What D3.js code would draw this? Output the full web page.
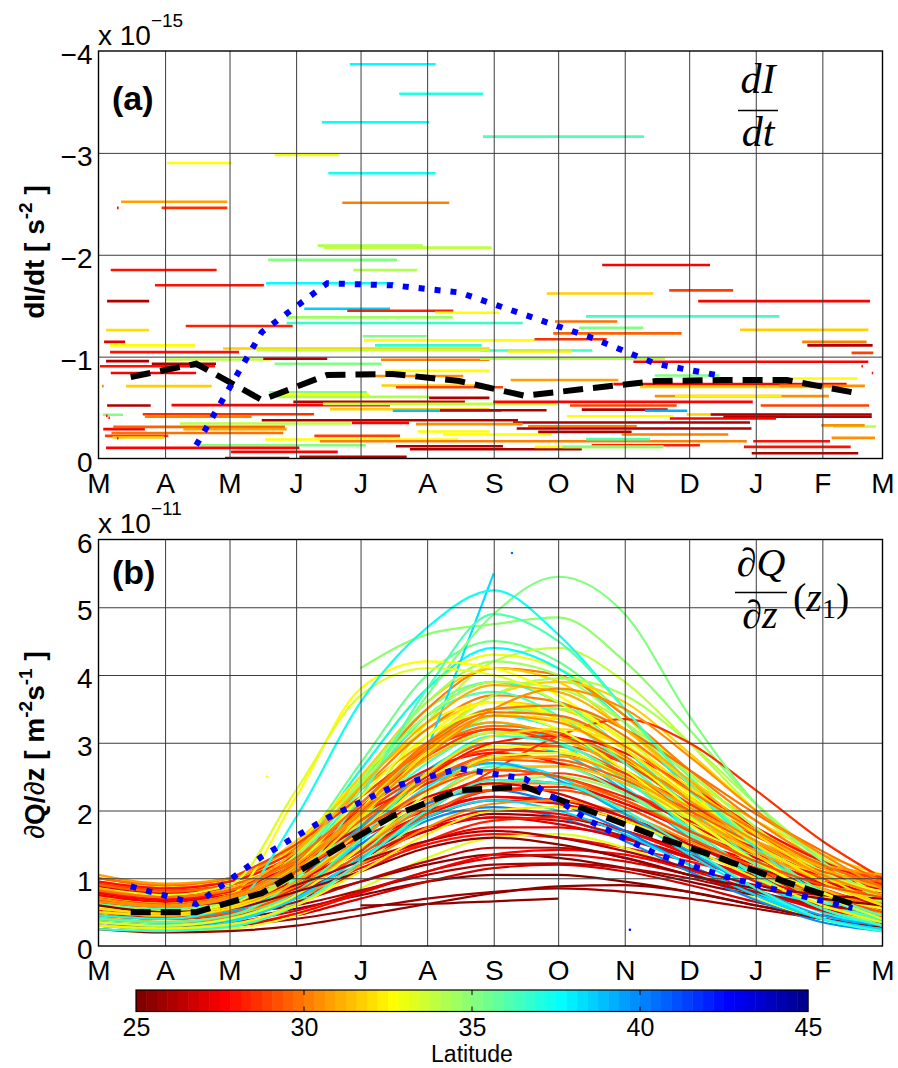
<!DOCTYPE html>
<html>
<head>
<meta charset="utf-8">
<script src="https://cdn.jsdelivr.net/npm/d3@7"></script>
<style>
  body { margin: 0; background: #fff; }
  text { font-family: "Liberation Sans", Arial, Helvetica, sans-serif; fill: #000; }
  .math { font-family: "Liberation Serif", "DejaVu Serif", serif; }
</style>
</head>
<body>
<svg id="chart" width="898" height="1068"></svg>
<script>
// ---------------------------------------------------------------------------
// Data
// ---------------------------------------------------------------------------

// Month boundaries, in days counted from 1 March, and their axis labels
const MONTH_DAYS = [0, 31, 61, 92, 122, 153, 184, 214, 245, 275, 306, 337, 365];
const MONTH_LABELS = ["M", "A", "M", "J", "J", "A", "S", "O", "N", "D", "J", "F", "M"];
// Mid-month days used by the monthly mean curves
const MID_DAYS = [15, 45.5, 76, 106.5, 137, 168, 198.5, 229, 259.5, 290, 320.5, 351];

const RATE_TICKS = [-4, -3, -2, -1, 0];      // panel (a), units of 1e-15 s^-2
const FLUX_TICKS = [0, 1, 2, 3, 4, 5, 6];    // panel (b), units of 1e-11 m^-2 s^-1
const LAT_TICKS = [25, 30, 35, 40, 45];

// Panel (a): dI/dt estimates over each float's time window
// [start day, end day, dI/dt (1e-15 s^-2), latitude]
const dIdtSegments = [
  [117, 157, -3.87, 37.6], [140, 179, -3.58, 37.0], [104, 154, -3.30, 37.8],
  [179, 254, -3.16, 36.2], [32, 62, -2.90, 32.8], [82, 112, -2.98, 33.0],
  [107, 157, -2.80, 37.4], [10.5, 60, -2.52, 30.8], [29.4, 60, -2.46, 28.6],
  [8.6, 9.4, -2.46, 28.0], [113.5, 163.3, -2.51, 30.2], [102, 151, -2.09, 34.2],
  [105, 183, -2.07, 34.0], [79, 139, -1.95, 35.2], [118.6, 148.4, -1.85, 34.2],
  [5.7, 55, -1.85, 28.0], [26.3, 77, -1.70, 28.0], [78, 137.7, -1.72, 37.6],
  [4, 23.6, -1.545, 26.0], [95.8, 135.7, -1.47, 38.6], [115.8, 165.2, -1.45, 28.2],
  [156.7, 186.5, -1.43, 32.6], [87.6, 164.9, -1.385, 34.4], [87.6, 197.5, -1.33, 36.8],
  [3.5, 23.5, -1.26, 32.0], [40.6, 90.4, -1.30, 28.3], [2.6, 12.4, -1.145, 27.0],
  [123, 152.8, -1.20, 35.0], [123.6, 203.2, -1.16, 32.8], [203, 236.6, -1.17, 28.5],
  [128.7, 178.4, -1.11, 36.8], [177.6, 229.9, -1.06, 36.4], [5.4, 45, -1.11, 32.6],
  [58, 182, -1.08, 31.8], [190.6, 220.3, -1.05, 32.2], [5.4, 65.4, -1.044, 28.0],
  [73.6, 182, -1.064, 34.0], [3.5, 23.5, -0.956, 26.0], [31, 80.6, -0.972, 34.0],
  [76.7, 106.5, -0.979, 26.2], [131.5, 182, -0.97, 30.2], [177.6, 263.7, -0.98, 34.2],
  [249, 358.4, -0.95, 27.6], [0.7, 54.2, -0.906, 28.0], [24.8, 54.7, -0.93, 26.0],
  [82, 131.8, -0.93, 35.0], [5.7, 45.4, -0.84, 27.8], [133.4, 182, -0.86, 32.6],
  [121.7, 169.8, -0.81, 30.6], [1.6, 2.4, -0.71, 30.0], [12.8, 52.7, -0.71, 31.6],
  [131.8, 182, -0.717, 31.6], [138.5, 188.3, -0.70, 29.0], [79.5, 124.9, -0.65, 35.0],
  [79.8, 126.4, -0.62, 32.8], [83, 154, -0.605, 34.2], [153.9, 182, -0.595, 26.0],
  [90.7, 170.6, -0.556, 26.3], [34, 135.7, -0.524, 27.8], [4, 24.3, -0.52, 26.2],
  [104.5, 214.4, -0.536, 34.0], [107.8, 182, -0.484, 31.6], [137, 187.5, -0.468, 39.0],
  [159, 208.6, -0.474, 26.0], [2, 11.4, -0.43, 35.0], [20.6, 100.3, -0.435, 28.6],
  [21.6, 71.3, -0.41, 30.2], [3.5, 4.2, -0.42, 28.0], [4.6, 5.3, -0.40, 28.0],
  [76, 195.3, -0.376, 26.0], [118, 144.6, -0.35, 27.6], [38, 117.9, -0.344, 34.0],
  [193, 303.3, -0.354, 26.2], [147.8, 197.5, -0.337, 30.4], [2.2, 21.6, -0.288, 27.6],
  [6.9, 86.8, -0.31, 29.6], [39.5, 87.6, -0.288, 30.8], [200, 250.6, -0.317, 30.0],
  [194.7, 304, -0.294, 26.2], [148.7, 182, -0.265, 32.6], [6, 86, -0.25, 29.8],
  [3, 32.5, -0.222, 28.8], [100.5, 140.4, -0.222, 29.0], [6.6, 30.5, -0.206, 31.6],
  [8.6, 9.3, -0.20, 28.0], [77.5, 167.5, -0.187, 32.6], [103, 301.8, -0.17, 30.0],
  [160.4, 211, -0.236, 32.6], [47.3, 124.5, -0.13, 35.2], [3.5, 93.5, -0.104, 27.8],
  [138.5, 188.3, -0.12, 26.0], [145, 225, -0.091, 26.0], [61.7, 111.4, -0.065, 27.8],
  [58.9, 88.8, -0.005, 26.0], [93.5, 143.5, -0.016, 26.0],
  [234.5, 284.7, -1.90, 27.8], [208.7, 258.3, -1.62, 31.8], [265.7, 295.5, -1.65, 29.0],
  [279.2, 359.2, -1.545, 27.8], [227, 317, -1.395, 36.4], [212.5, 241.5, -1.345, 29.8],
  [223.7, 253.6, -1.283, 35.0], [211.7, 271.5, -1.228, 29.6], [298.7, 358.4, -1.263, 31.6],
  [327.6, 357.6, -1.145, 30.0], [330, 360.4, -1.11, 26.2], [350.6, 360.7, -1.037, 28.8],
  [355.2, 355.9, -0.906, 28.0], [360.0, 360.7, -0.84, 28.0],
  [191.9, 242, -0.77, 30.8], [313.9, 353.3, -0.785, 32.6], [259, 289, -0.815, 35.2],
  [239.7, 348.3, -0.73, 27.8], [252, 342, -0.703, 31.6], [317, 356.8, -0.713, 30.4],
  [259, 340, -0.612, 30.4], [268.4, 318, -0.612, 32.4], [183.8, 304.6, -0.556, 27.8],
  [219.5, 269.2, -0.52, 28.8], [308.3, 358.8, -0.52, 28.8], [225, 265, -0.48, 26.0],
  [254.4, 274.1, -0.468, 39.2], [218, 267.6, -0.415, 32.8], [273.8, 319.6, -0.432, 31.6],
  [290.9, 360, -0.41, 26.0], [285, 360, -0.432, 26.2], [266, 315.4, -0.393, 27.8],
  [342, 362, -0.314, 34.0], [336.5, 356.7, -0.325, 30.4], [341.3, 361.5, -0.202, 30.4],
  [204.7, 248.2, -0.261, 26.0], [243.6, 293.2, -0.236, 30.2], [227, 256.8, -0.19, 36.2],
  [304.8, 340.6, -0.17, 28.0], [229.6, 280, -0.13, 28.2], [203, 263, -0.114, 32.6],
  [216, 263, -0.114, 35.0], [300.5, 350.2, -0.114, 28.0], [304.1, 353.7, -0.052, 26.0]
];

// Panel (a): monthly mean of the segments, and the blue seasonal estimate
const meanRateA = [-0.80, -0.93, -0.575, -0.82, -0.83, -0.76, -0.615, -0.69, -0.76, -0.77, -0.77, -0.65];
const seasonalRateA = [null, -0.13, -1.24, -1.72, -1.70, -1.63, -1.41, -1.19, -0.93, -0.81, null, null];

// Panel (b): dQ/dz(z1) for each float, sampled at MONTH_DAYS
// [latitude, 13 values in 1e-11 m^-2 s^-1]
const fluxProfiles = [
  [25.2, 0.40, 0.35, 0.40, 0.55, 0.75, 0.95, 1.05, 1.05, 0.95, 0.80, 0.60, 0.45, 0.40],
  [31.6, 0.75, 0.65, 0.78, 1.40, 2.50, 3.60, 4.10, 3.90, 3.20, 2.40, 1.65, 1.10, 0.80],
  [27.0, 0.85, 0.75, 0.85, 1.20, 1.75, 2.20, 2.40, 2.25, 1.90, 1.50, 1.15, 0.90, 0.85],
  [34.0, 0.40, 0.35, 0.45, 0.95, 2.00, 3.30, 4.20, 4.40, 3.90, 3.00, 2.00, 1.20, 0.60],
  [29.0, 0.85, 0.75, 0.85, 1.30, 2.05, 2.80, 3.20, 3.10, 2.70, 2.10, 1.55, 1.10, 0.90],
  [37.2, 0.45, 0.40, 0.58, 1.90, 3.60, 4.70, 5.25, 4.60, 3.50, 2.40, 1.45, 0.75, 0.40],
  [25.5, 0.55, 0.45, 0.50, 0.70, 0.95, 1.20, 1.35, 1.30, 1.15, 0.95, 0.75, 0.60, 0.55],
  [27.5, 0.50, 0.45, 0.55, 0.85, 1.30, 1.75, 2.00, 1.95, 1.70, 1.35, 1.00, 0.70, 0.55],
  [32.0, 0.55, 0.48, 0.58, 1.05, 1.90, 2.85, 3.40, 3.35, 2.90, 2.20, 1.50, 0.95, 0.60],
  [29.5, 0.60, 0.52, 0.62, 1.05, 1.75, 2.55, 3.00, 2.95, 2.55, 2.00, 1.45, 1.00, 0.70],
  [35.0, 0.50, 0.45, 0.55, 1.15, 2.30, 3.70, 4.90, 5.45, 4.90, 3.40, 2.10, 1.25, 0.65],
  [25.8, 0.30, 0.25, 0.30, 0.40, 0.55, 0.70, 0.80, 0.85, 0.80, 0.70, 0.55, 0.40, 0.30],
  [28.0, 0.95, 0.85, 0.95, 1.35, 2.00, 2.60, 2.85, 2.70, 2.30, 1.80, 1.35, 1.05, 0.95],
  [36.6, 0.35, 0.30, 0.40, 0.80, 1.60, 2.55, 3.10, 3.00, 2.45, 1.75, 1.05, 0.55, 0.30],
  [30.0, 0.95, 0.85, 0.95, 1.45, 2.30, 3.20, 3.70, 3.60, 3.10, 2.40, 1.75, 1.25, 1.00],
  [32.5, 0.40, 0.35, 0.45, 0.85, 1.60, 2.45, 2.95, 2.90, 2.45, 1.80, 1.20, 0.75, 0.45],
  [26.0, 0.70, 0.60, 0.65, 0.90, 1.25, 1.55, 1.70, 1.60, 1.40, 1.15, 0.90, 0.75, 0.70],
  [34.8, null, null, null, null, 4.10, 4.60, 4.75, 4.85, 4.20, 3.20, 2.10, 1.30, 0.90],
  [27.2, 0.65, 0.55, 0.65, 0.95, 1.45, 1.90, 2.15, 2.10, 1.85, 1.50, 1.10, 0.80, 0.65],
  [30.5, 0.70, 0.60, 0.72, 1.20, 2.00, 2.90, 3.40, 3.30, 2.80, 2.15, 1.55, 1.05, 0.75],
  [37.6, 0.50, 0.45, 0.55, 1.05, 2.00, 2.90, 3.30, 3.00, 2.35, 1.65, 1.00, 0.55, 0.35],
  [26.3, 0.45, 0.40, 0.45, 0.65, 0.95, 1.25, 1.45, 1.45, 1.30, 1.05, 0.80, 0.60, 0.50],
  [33.0, 0.65, 0.55, 0.68, 1.35, 2.60, 3.80, 4.30, 4.10, 3.40, 2.55, 1.75, 1.15, 0.75],
  [28.4, 0.40, 0.35, 0.42, 0.70, 1.10, 1.55, 1.85, 1.90, 1.70, 1.35, 0.95, 0.60, 0.42],
  [29.2, 0.45, 0.40, 0.48, 0.80, 1.35, 1.95, 2.30, 2.30, 2.05, 1.60, 1.15, 0.75, 0.50],
  [35.5, 0.45, 0.40, 0.50, 1.00, 1.95, 2.95, 3.50, 3.40, 2.90, 2.15, 1.40, 0.80, 0.45],
  [27.8, 0.75, 0.65, 0.75, 1.10, 1.65, 2.15, 2.45, 2.40, 2.10, 1.70, 1.30, 0.95, 0.80],
  [25.4, 0.60, 0.50, 0.55, 0.80, 1.10, 1.45, 1.60, 1.50, 1.30, 1.05, 0.85, 0.70, 0.60],
  [30.2, 0.80, 0.70, 0.80, 1.35, 2.40, 3.50, 4.10, 4.00, 3.40, 2.60, 1.85, 1.25, 0.90],
  [38.0, 0.30, 0.26, 0.35, 0.75, 1.55, 2.35, 2.70, 2.50, 1.95, 1.35, 0.80, 0.40, 0.22],
  [32.2, 0.30, 0.26, 0.32, 0.60, 1.10, 1.65, 2.00, 2.05, 1.85, 1.45, 1.00, 0.60, 0.35],
  [28.2, 1.00, 0.90, 1.00, 1.40, 1.95, 2.40, 2.60, 2.50, 2.20, 1.85, 1.45, 1.15, 1.00],
  [34.4, 0.60, 0.52, 0.65, 1.30, 2.45, 3.60, 4.20, 4.00, 3.30, 2.40, 1.55, 0.95, 0.65],
  [26.6, 0.35, 0.28, 0.30, 0.45, 0.70, 0.95, 1.15, 1.20, 1.10, 0.90, 0.65, 0.45, 0.35],
  [29.8, 1.00, 0.90, 1.00, 1.50, 2.20, 2.90, 3.25, 3.15, 2.75, 2.20, 1.65, 1.20, 1.05],
  [33.4, 0.85, 0.75, 0.90, 2.30, 3.70, 4.10, 4.00, 3.60, 2.90, 2.20, 1.55, 1.05, 0.80],
  [27.4, 0.55, 0.48, 0.55, 0.80, 1.20, 1.55, 1.75, 1.75, 1.60, 1.30, 1.00, 0.72, 0.58],
  [37.0, 0.55, 0.50, 0.62, 1.20, 2.30, 3.40, 3.90, 3.60, 2.90, 2.05, 1.25, 0.65, 0.38],
  [30.8, 0.55, 0.48, 0.58, 0.95, 1.60, 2.30, 2.75, 2.80, 2.50, 1.95, 1.40, 0.95, 0.60],
  [25.9, 0.80, 0.70, 0.75, 0.95, 1.30, 1.70, 1.95, 1.90, 1.70, 1.40, 1.10, 0.90, 0.80],
  [35.8, 0.30, 0.25, 0.30, 0.65, 1.35, 2.15, 2.65, 2.65, 2.25, 1.65, 1.05, 0.55, 0.30],
  [28.6, 0.70, 0.60, 0.72, 1.10, 1.75, 2.40, 2.85, 2.95, 2.70, 2.20, 1.65, 1.15, 0.80],
  [31.8, 0.60, 0.52, 0.62, 1.10, 2.00, 3.00, 3.70, 3.90, 3.60, 2.85, 2.00, 1.30, 0.80],
  [39.2, 0.45, 0.40, 0.50, 0.95, 1.75, 2.45, 2.70, 2.45, 1.95, 1.40, 0.85, 0.45, 0.30],
  [29.6, 0.75, 0.65, 0.75, 1.15, 1.80, 2.40, 2.75, 2.70, 2.40, 1.95, 1.45, 1.05, 0.80],
  [26.2, 0.50, 0.42, 0.48, 0.60, 0.82, 1.05, 1.20, 1.22, 1.15, 1.00, 0.78, 0.60, 0.50],
  [36.0, 0.40, 0.35, 0.45, 1.00, 2.20, 3.80, 4.90, 4.50, 3.50, 2.40, 1.50, 0.80, 0.45],
  [27.6, 0.90, 0.80, 0.85, 1.15, 1.60, 2.00, 2.20, 2.10, 1.85, 1.55, 1.25, 1.00, 0.92],
  [32.8, 0.45, 0.40, 0.50, 1.00, 2.00, 3.10, 3.60, 3.40, 2.80, 2.05, 1.35, 0.80, 0.50],
  [30.4, 0.65, 0.58, 0.70, 1.15, 1.95, 2.80, 3.50, 3.80, 3.50, 2.80, 2.00, 1.35, 0.85],
  [28.8, 0.60, 0.52, 0.62, 0.95, 1.50, 2.10, 2.50, 2.55, 2.30, 1.85, 1.35, 0.92, 0.65],
  [34.2, 0.70, 0.62, 0.72, 1.35, 2.40, 3.40, 3.90, 3.80, 3.30, 2.55, 1.75, 1.10, 0.75],
  [38.6, 0.40, 0.35, 0.45, 0.90, 1.75, 2.60, 3.00, 2.85, 2.30, 1.60, 0.95, 0.50, 0.28],
  [25.6, 0.25, 0.20, 0.22, 0.30, 0.45, 0.62, 0.78, 0.88, 0.90, 0.80, 0.60, 0.40, 0.28],
  [29.4, 0.90, 0.80, 0.90, 1.25, 1.85, 2.45, 2.80, 2.75, 2.45, 2.00, 1.50, 1.10, 0.95],
  [33.2, 0.25, 0.20, 0.25, 0.45, 0.85, 1.30, 1.60, 1.65, 1.45, 1.10, 0.70, 0.40, 0.25],
  [27.1, 0.35, 0.30, 0.35, 0.52, 0.80, 1.10, 1.30, 1.35, 1.25, 1.05, 0.80, 0.55, 0.38],
  [31.0, 0.85, 0.72, 0.85, 1.40, 2.35, 3.30, 3.85, 3.75, 3.20, 2.45, 1.70, 1.15, 0.85],
  [35.2, 0.55, 0.48, 0.58, 1.20, 2.40, 3.50, 3.90, 3.60, 2.90, 2.05, 1.30, 0.75, 0.45],
  [28.1, 0.80, 0.70, 0.80, 1.20, 1.85, 2.50, 3.00, 3.10, 2.85, 2.35, 1.75, 1.25, 0.90],
  [36.8, 0.25, 0.22, 0.28, 0.60, 1.25, 2.00, 2.45, 2.40, 2.00, 1.45, 0.85, 0.40, 0.22],
  [32.4, 0.90, 0.80, 0.90, 1.50, 2.50, 3.30, 3.60, 3.35, 2.75, 2.05, 1.45, 1.05, 0.95],
  [30.6, 0.40, 0.35, 0.42, 0.70, 1.20, 1.75, 2.10, 2.15, 1.95, 1.55, 1.10, 0.70, 0.45],
  [27.9, 0.45, 0.40, 0.48, 0.75, 1.15, 1.50, 1.65, 1.60, 1.45, 1.25, 1.00, 0.75, 0.55],
  [34.6, 0.30, 0.25, 0.32, 0.60, 1.20, 1.90, 2.40, 2.50, 2.25, 1.70, 1.10, 0.60, 0.30],
  [29.9, 0.70, 0.62, 0.75, 1.25, 2.10, 3.00, 3.50, 3.55, 3.20, 2.60, 1.95, 1.40, 0.95],
  [37.8, 0.60, 0.55, 0.70, 1.35, 2.60, 3.80, 4.40, 4.10, 3.30, 2.30, 1.40, 0.70, 0.35],
  [28.5, 0.65, 0.55, 0.60, 0.90, 1.40, 2.00, 2.60, 3.10, 3.35, 3.00, 2.30, 1.55, 1.00],
  [31.9, 0.50, 0.45, 0.55, 0.95, 1.70, 2.55, 3.10, 3.20, 2.95, 2.35, 1.65, 1.05, 0.60],
  [39.8, 0.35, 0.30, 0.38, 0.72, 1.30, 1.85, 2.05, 1.90, 1.55, 1.10, 0.68, 0.35, 0.22],
  [30.9, 1.05, 0.92, 1.00, 1.50, 2.30, 3.00, 3.30, 3.10, 2.60, 2.05, 1.55, 1.20, 1.05],
  [35.4, 0.70, 0.60, 0.72, 1.40, 2.70, 4.00, 4.50, 4.20, 3.40, 2.50, 1.65, 1.05, 0.70],
  [26.8, 0.60, 0.52, 0.60, 0.88, 1.30, 1.70, 1.90, 1.85, 1.62, 1.32, 1.02, 0.75, 0.62],
  [32.6, 0.70, 0.62, 0.75, 2.20, 3.80, 4.20, 4.10, 3.70, 3.00, 2.25, 1.55, 1.05, 0.75],
  [36.4, 0.50, 0.45, 0.55, 1.00, 1.85, 2.70, 3.15, 3.10, 2.70, 2.05, 1.30, 0.70, 0.40],
  [27.3, 0.78, 0.68, 0.75, 1.05, 1.50, 1.95, 2.20, 2.15, 1.90, 1.55, 1.20, 0.92, 0.80],
  [33.3, 0.35, 0.30, 0.40, 0.75, 1.45, 2.25, 2.80, 2.85, 2.50, 1.90, 1.25, 0.75, 0.40],
  [28.3, 0.52, 0.45, 0.55, 0.88, 1.40, 1.95, 2.30, 2.35, 2.10, 1.70, 1.25, 0.85, 0.58],
  [40.2, 0.40, 0.35, 0.42, 0.80, 1.50, 2.10, 2.30, 2.10, 1.70, 1.20, 0.75, 0.40, 0.25],
  [29.1, 0.68, 0.60, 0.70, 1.10, 1.70, 2.30, 2.60, 2.50, 2.15, 1.70, 1.25, 0.90, 0.72],
  [34.9, 0.45, 0.40, 0.50, 0.95, 1.80, 2.80, 3.40, 3.50, 3.20, 2.55, 1.75, 1.05, 0.55],
  [30.1, 0.50, 0.44, 0.52, 0.88, 1.45, 2.05, 2.40, 2.40, 2.15, 1.72, 1.25, 0.85, 0.55],
  [31.7, 1.00, 0.88, 0.98, 1.55, 2.40, 3.20, 3.60, 3.50, 3.05, 2.45, 1.85, 1.35, 1.05],
  [26.9, 0.88, 0.78, 0.82, 1.05, 1.40, 1.75, 1.90, 1.80, 1.58, 1.30, 1.05, 0.90, 0.86],
  [38.3, 0.35, 0.30, 0.38, 0.70, 1.30, 1.90, 2.15, 2.00, 1.65, 1.20, 0.75, 0.40, 0.25],
  [31.3, 0.72, 0.62, 0.72, 1.20, 2.00, 2.75, 3.15, 3.05, 2.60, 2.00, 1.45, 1.00, 0.75],
  [28.9, 0.92, 0.82, 0.90, 1.30, 1.95, 2.55, 2.90, 2.85, 2.55, 2.10, 1.62, 1.20, 0.98],
  [32.9, 0.58, 0.50, 0.62, 1.20, 2.20, 3.10, 3.45, 3.20, 2.60, 1.90, 1.25, 0.78, 0.55],
  [27.7, 0.30, 0.26, 0.30, 0.48, 0.78, 1.10, 1.35, 1.42, 1.35, 1.12, 0.82, 0.52, 0.34],
  [36.2, 0.62, 0.55, 0.65, 1.25, 2.40, 3.40, 3.75, 3.40, 2.70, 1.95, 1.20, 0.65, 0.40],
  [29.7, 0.82, 0.72, 0.82, 1.30, 2.10, 2.95, 3.45, 3.40, 2.95, 2.30, 1.70, 1.20, 0.88],
  [34.3, 0.50, 0.45, 0.55, 1.05, 1.95, 2.80, 3.15, 3.00, 2.50, 1.85, 1.20, 0.70, 0.45],
  [31.5, 0.42, 0.36, 0.45, 0.80, 1.45, 2.15, 2.60, 2.65, 2.40, 1.90, 1.35, 0.85, 0.48],
  [33.6, 0.48, 0.42, 0.52, 1.00, 1.90, 2.90, 3.50, 3.50, 3.05, 2.30, 1.55, 0.95, 0.55],
  [34.1, 0.38, 0.32, 0.42, 0.90, 1.85, 2.95, 3.70, 3.95, 3.70, 3.00, 2.10, 1.30, 0.70],
  [29.0, null, null, 1.00, 1.50, 2.20, 2.90, 3.20, 3.00, null, null, null, null, null],
  [37.8, null, null, null, null, null, 2.80, 3.40, 3.20, 2.50, 1.70, 1.00, 0.50, 0.30],
  [38.4, null, null, null, null, null, 2.90, 5.50, null, null, null, null, null, null],
  [25.6, null, null, null, null, 0.60, 0.62, 0.66, 0.70, null, null, null, null, null]
];

// Isolated single-profile points in panel (b): [day, value, latitude]
const fluxDots = [[192.5, 5.8, 40.5], [247.4, 0.24, 42.5], [78.5, 2.5, 32.5]];

// Panel (b): monthly mean of the profiles, and the blue seasonal estimate
const meanFluxB = [0.50, 0.50, 0.78, 1.35, 1.92, 2.30, 2.35, 1.99, 1.62, 1.29, 0.94, 0.62];
const seasonalFluxB = [0.88, 0.62, 1.32, 1.89, 2.35, 2.62, 2.47, 1.84, 1.36, 1.04, 0.79, 0.56];

// ---------------------------------------------------------------------------
// Layout and scales
// ---------------------------------------------------------------------------
const W = 898, H = 1068;
const X_LEFT = 98.5, X_RIGHT = 882.5;
const A_TOP = 51, A_BOTTOM = 458.5;
const B_TOP = 539.5, B_BOTTOM = 946;
const CB_LEFT = 136, CB_RIGHT = 808, CB_TOP = 990, CB_BOTTOM = 1011.5;
const TICK_FONT = 28;

const x = d3.scaleLinear().domain([0, 365]).range([X_LEFT, X_RIGHT]);
const yA = d3.scaleLinear().domain([-4, 0]).range([A_TOP, A_BOTTOM]);
const yB = d3.scaleLinear().domain([0, 6]).range([B_BOTTOM, B_TOP]);
const latScale = d3.scaleLinear().domain([25, 45]).range([CB_LEFT, CB_RIGHT]);

// 64-level jet colormap, reversed so that 25 degN is dark red and 45 degN dark blue
function jet(k) { // k = 1..64
  const u = j => (j < 1 || j > 47) ? 0 : j <= 16 ? j / 16 : j <= 31 ? 1 : (48 - j) / 16;
  const r = k >= 25 ? u(k - 24) : 0;
  const g = (k >= 9 && k <= 55) ? u(k - 8) : 0;
  const b = k <= 39 ? u(k + 8) : 0;
  return d3.rgb(Math.round(r * 255), Math.round(g * 255), Math.round(b * 255)).formatHex();
}
function latColor(lat) {
  const bin = Math.max(0, Math.min(63, Math.floor((lat - 25) / 20 * 64)));
  return jet(64 - bin);
}

const svg = d3.select("#chart");
svg.append("rect").attr("width", W).attr("height", H).attr("fill", "#fff");
const defs = svg.append("defs");
defs.append("clipPath").attr("id", "clipA").append("rect")
  .attr("x", X_LEFT).attr("y", A_TOP).attr("width", X_RIGHT - X_LEFT).attr("height", A_BOTTOM - A_TOP);
defs.append("clipPath").attr("id", "clipB").append("rect")
  .attr("x", X_LEFT).attr("y", B_TOP).attr("width", X_RIGHT - X_LEFT).attr("height", B_BOTTOM - B_TOP);

// Grid, box and tick labels shared by both panels
function drawGrid(g, y, ticks, top, bottom) {
  g.append("g").attr("transform", `translate(0,${bottom})`)
    .call(d3.axisBottom(x).tickValues(MONTH_DAYS.slice(1, -1)).tickSize(-(bottom - top)).tickFormat(""))
    .call(s => s.select(".domain").remove())
    .call(s => s.selectAll("line").attr("stroke", "#3c3c3c").attr("stroke-width", 1));
  g.append("g").attr("transform", `translate(${X_LEFT},0)`)
    .call(d3.axisLeft(y).tickValues(ticks.slice(1, -1)).tickSize(-(X_RIGHT - X_LEFT)).tickFormat(""))
    .call(s => s.select(".domain").remove())
    .call(s => s.selectAll("line").attr("stroke", "#3c3c3c").attr("stroke-width", 1));
}
function drawFrame(g, y, ticks, top, bottom) {
  g.append("rect").attr("x", X_LEFT).attr("y", top)
    .attr("width", X_RIGHT - X_LEFT).attr("height", bottom - top)
    .attr("fill", "none").attr("stroke", "#000").attr("stroke-width", 1.4);
  const xa = g.append("g").attr("transform", `translate(0,${bottom})`)
    .call(d3.axisBottom(x).tickValues(MONTH_DAYS).tickSize(0)
      .tickFormat((d, i) => MONTH_LABELS[i]));
  xa.select(".domain").remove();
  xa.selectAll("text").attr("y", 34).attr("dy", null)
    .attr("font-size", TICK_FONT).attr("font-family", "Liberation Sans, Arial, sans-serif");
  const ya = g.append("g").attr("transform", `translate(${X_LEFT},0)`)
    .call(d3.axisLeft(y).tickValues(ticks).tickSize(0).tickFormat(d3.format("d")));
  ya.select(".domain").remove();
  ya.selectAll("text").attr("x", -6).attr("dy", "0.45em")
    .attr("font-size", TICK_FONT).attr("font-family", "Liberation Sans, Arial, sans-serif");
}

// ---------------------------------------------------------------------------
// Panel (a)
// ---------------------------------------------------------------------------
const gA = svg.append("g");
gA.append("g").attr("clip-path", "url(#clipA)")
  .selectAll("line").data(dIdtSegments).join("line")
  .attr("x1", d => x(d[0])).attr("x2", d => x(d[1]))
  .attr("y1", d => yA(d[2])).attr("y2", d => yA(d[2]))
  .attr("stroke", d => latColor(d[3])).attr("stroke-width", 2.6);

drawGrid(gA, yA, RATE_TICKS, A_TOP, A_BOTTOM);

const lineA = d3.line().defined(d => d[1] != null).x(d => x(d[0])).y(d => yA(d[1]));
gA.append("path").datum(MID_DAYS.map((d, i) => [d, meanRateA[i]]))
  .attr("d", lineA).attr("fill", "none").attr("stroke", "#000")
  .attr("stroke-width", 6).attr("stroke-dasharray", "20,10");
gA.append("path").datum(MID_DAYS.map((d, i) => [d, seasonalRateA[i]]))
  .attr("d", lineA).attr("fill", "none").attr("stroke", "#0000ff")
  .attr("stroke-width", 6).attr("stroke-dasharray", "6,10");

drawFrame(gA, yA, RATE_TICKS, A_TOP, A_BOTTOM);

// ---------------------------------------------------------------------------
// Panel (b)
// ---------------------------------------------------------------------------
const gB = svg.append("g");
const lineB = d3.line().defined(d => d[1] != null)
  .x(d => x(d[0])).y(d => yB(d[1])).curve(d3.curveMonotoneX);
// Interleave the profiles so that no latitude band is drawn entirely on top
const drawOrder = d3.range(fluxProfiles.length)
  .sort((a, b) => ((a * 37) % 101) - ((b * 37) % 101))
  .map(i => fluxProfiles[i]);
const gProfiles = gB.append("g").attr("clip-path", "url(#clipB)");
gProfiles.selectAll("path").data(drawOrder).join("path")
  .attr("d", p => lineB(MONTH_DAYS.map((day, i) => [day, p[i + 1]])))
  .attr("fill", "none").attr("stroke", p => latColor(p[0])).attr("stroke-width", 2.2);
gProfiles.selectAll("circle").data(fluxDots).join("circle")
  .attr("cx", d => x(d[0])).attr("cy", d => yB(d[1])).attr("r", 1.3)
  .attr("fill", d => latColor(d[2]));

drawGrid(gB, yB, FLUX_TICKS, B_TOP, B_BOTTOM);

const lineMeanB = d3.line().x(d => x(d[0])).y(d => yB(d[1]));
gB.append("path").datum(MID_DAYS.map((d, i) => [d, meanFluxB[i]]))
  .attr("d", lineMeanB).attr("fill", "none").attr("stroke", "#000")
  .attr("stroke-width", 6).attr("stroke-dasharray", "20,10");
gB.append("path").datum(MID_DAYS.map((d, i) => [d, seasonalFluxB[i]]))
  .attr("d", lineMeanB).attr("fill", "none").attr("stroke", "#0000ff")
  .attr("stroke-width", 6).attr("stroke-dasharray", "6,10");

drawFrame(gB, yB, FLUX_TICKS, B_TOP, B_BOTTOM);

// ---------------------------------------------------------------------------
// Panel annotations
// ---------------------------------------------------------------------------
function exponentLabel(baseline, exp) {
  const t = svg.append("text").attr("x", 98).attr("y", baseline).attr("font-size", TICK_FONT);
  t.append("tspan").text("x 10");
  t.append("tspan").attr("font-size", 19).attr("dy", -18).text(exp);
}
exponentLabel(45, "\u221215");
exponentLabel(533, "\u221211");

svg.append("text").attr("x", 112).attr("y", 110).attr("font-size", 34)
  .attr("font-weight", "bold").text("(a)");
svg.append("text").attr("x", 112).attr("y", 584).attr("font-size", 34)
  .attr("font-weight", "bold").text("(b)");

// y-axis titles
const labA = svg.append("text").attr("transform", "translate(44,252) rotate(-90)")
  .attr("text-anchor", "middle").attr("font-size", 28).attr("font-weight", "bold");
labA.append("tspan").text("dI/dt [ s");
labA.append("tspan").attr("font-size", 19).attr("dy", -12).text("-2");
labA.append("tspan").attr("dy", 12).text(" ]");

const labB = svg.append("text").attr("transform", "translate(44,745) rotate(-90)")
  .attr("text-anchor", "middle").attr("font-size", 28).attr("font-weight", "bold");
labB.append("tspan").attr("font-weight", "normal").text("\u2202");
labB.append("tspan").text("Q/");
labB.append("tspan").attr("font-weight", "normal").text("\u2202");
labB.append("tspan").text("z [ m");
labB.append("tspan").attr("font-size", 19).attr("dy", -12).text("-2");
labB.append("tspan").attr("dy", 12).text("s");
labB.append("tspan").attr("font-size", 19).attr("dy", -12).text("-1");
labB.append("tspan").attr("dy", 12).text(" ]");

// dI/dt fraction
svg.append("text").attr("class", "math").attr("x", 758).attr("y", 93)
  .attr("text-anchor", "middle").attr("font-size", 42).attr("font-style", "italic").text("dI");
svg.append("line").attr("x1", 738).attr("x2", 778).attr("y1", 110.5).attr("y2", 110.5)
  .attr("stroke", "#000").attr("stroke-width", 1.3);
svg.append("text").attr("class", "math").attr("x", 758).attr("y", 146)
  .attr("text-anchor", "middle").attr("font-size", 42).attr("font-style", "italic").text("dt");

// dQ/dz(z1) fraction
svg.append("text").attr("class", "math").attr("x", 761).attr("y", 576)
  .attr("text-anchor", "middle").attr("font-size", 40).attr("font-style", "italic").text("\u2202Q");
svg.append("line").attr("x1", 735).attr("x2", 787).attr("y1", 592.5).attr("y2", 592.5)
  .attr("stroke", "#000").attr("stroke-width", 1.3);
svg.append("text").attr("class", "math").attr("x", 760).attr("y", 628)
  .attr("text-anchor", "middle").attr("font-size", 40).attr("font-style", "italic").text("\u2202z");
const arg = svg.append("text").attr("class", "math").attr("x", 793).attr("y", 611).attr("font-size", 40);
arg.append("tspan").text("(");
arg.append("tspan").attr("font-style", "italic").text("z");
arg.append("tspan").attr("font-size", 28).attr("dy", 7).text("1");
arg.append("tspan").attr("dy", -7).text(")");

// ---------------------------------------------------------------------------
// Colorbar
// ---------------------------------------------------------------------------
const cb = svg.append("g");
const binWidth = (CB_RIGHT - CB_LEFT) / 64;
cb.selectAll("rect").data(d3.range(64)).join("rect")
  .attr("x", i => latScale(25 + i * 20 / 64)).attr("y", CB_TOP)
  .attr("width", binWidth + 0.4).attr("height", CB_BOTTOM - CB_TOP)
  .attr("fill", i => latColor(25 + (i + 0.5) * 20 / 64));
cb.append("rect").attr("x", CB_LEFT).attr("y", CB_TOP)
  .attr("width", CB_RIGHT - CB_LEFT).attr("height", CB_BOTTOM - CB_TOP)
  .attr("fill", "none").attr("stroke", "#000").attr("stroke-width", 1.2);
const cbAxis = cb.append("g").attr("transform", `translate(0,${CB_BOTTOM})`)
  .call(d3.axisBottom(latScale).tickValues(LAT_TICKS).tickSize(0));
cbAxis.select(".domain").remove();
cbAxis.selectAll("text").attr("y", 24).attr("dy", null)
  .attr("font-size", 25).attr("font-family", "Liberation Sans, Arial, sans-serif");
cb.selectAll("line.tickTop").data(LAT_TICKS.slice(1, -1)).join("line").attr("class", "tickTop")
  .attr("x1", d => latScale(d)).attr("x2", d => latScale(d))
  .attr("y1", CB_TOP).attr("y2", CB_TOP + 5).attr("stroke", "#000").attr("stroke-width", 1);
cb.selectAll("line.tickBottom").data(LAT_TICKS.slice(1, -1)).join("line").attr("class", "tickBottom")
  .attr("x1", d => latScale(d)).attr("x2", d => latScale(d))
  .attr("y1", CB_BOTTOM - 5).attr("y2", CB_BOTTOM).attr("stroke", "#000").attr("stroke-width", 1);
svg.append("text").attr("x", (CB_LEFT + CB_RIGHT) / 2).attr("y", 1062)
  .attr("text-anchor", "middle").attr("font-size", 23).text("Latitude");
</script>
</body>
</html>
